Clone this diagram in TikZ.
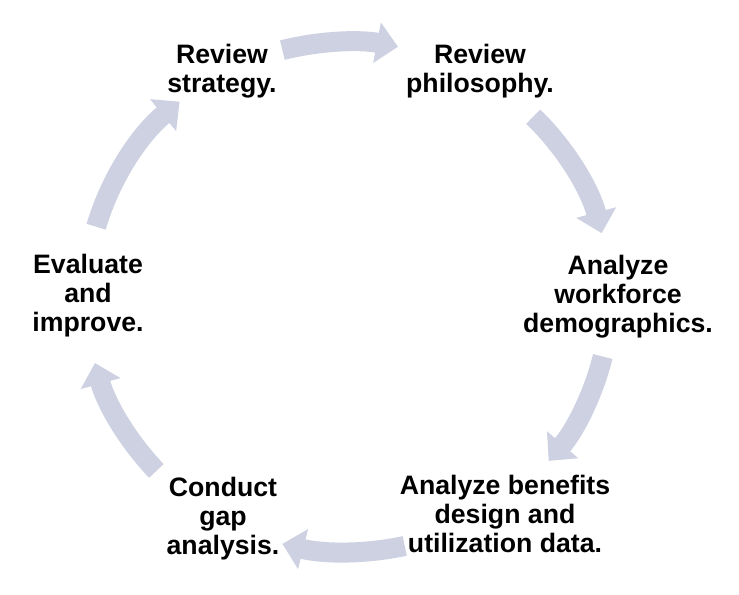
\documentclass[tikz,border=0pt]{standalone}
\usepackage{fontspec}
\setmainfont{Liberation Sans}
\usepackage{tikz}
\usetikzlibrary{arrows.meta}
\usetikzlibrary{calc}

\definecolor{cyclegray}{RGB}{205,209,225}

\tikzset{
  steptext/.style={align=center,font=\bfseries\fontsize{20pt}{21.8pt}\selectfont,inner sep=0pt},
  flow/.style={cyclegray,line width=15pt,-{Triangle[length=16pt,width=30pt]}}
}

\begin{document}
\begin{tikzpicture}[x=0.75pt,y=0.75pt]
            \useasboundingbox (0,0) rectangle (739,594);
            \coordinate (c) at (348,297);
            % the six steps
            \node[steptext] (strat) at (222,523) {Review\\strategy.};
            \node[steptext] (philo) at (480,523) {Review\\philosophy.};
            \node[steptext] (demo) at (618,297) {Analyze\\workforce\\demographics.};
            \node[steptext] (bene) at (505,80) {Analyze benefits\\design and\\utilization data.};
            \node[steptext] (gap) at (223,75) {Conduct\\gap\\analysis.};
            \node[steptext] (improve) at (88,298) {Evaluate\\and\\improve.};
            % arrow tails on the ring
            \coordinate (t1) at ($(c)+(104.5:196.5pt and 191.25pt)$);
            \coordinate (t2) at ($(c)+(45:196.5pt and 191.25pt)$);
            \coordinate (t3) at ($(c)+(-13.5:196.5pt and 191.25pt)$);
            \coordinate (t4) at ($(c)+(-77.5:196.5pt and 191.25pt)$);
            \coordinate (t5) at ($(c)+(-137:196.5pt and 191.25pt)$);
            \coordinate (t6) at ($(c)+(164:196.5pt and 191.25pt)$);
            \draw[flow] (t1) arc[start angle=104.5,end angle=79,x radius=196.5pt,y radius=191.25pt];
            \draw[flow] (t2) arc[start angle=45,end angle=14.5,x radius=196.5pt,y radius=191.25pt];
            \draw[flow] (t3) arc[start angle=-13.5,end angle=-40,x radius=196.5pt,y radius=191.25pt];
            \draw[flow] (t4) arc[start angle=-77.5,end angle=-104.5,x radius=196.5pt,y radius=191.25pt];
            \draw[flow] (t5) arc[start angle=-137,end angle=-165,x radius=196.5pt,y radius=191.25pt];
            \draw[flow] (t6) arc[start angle=164,end angle=130,x radius=196.5pt,y radius=191.25pt];
\end{tikzpicture}
\end{document}
